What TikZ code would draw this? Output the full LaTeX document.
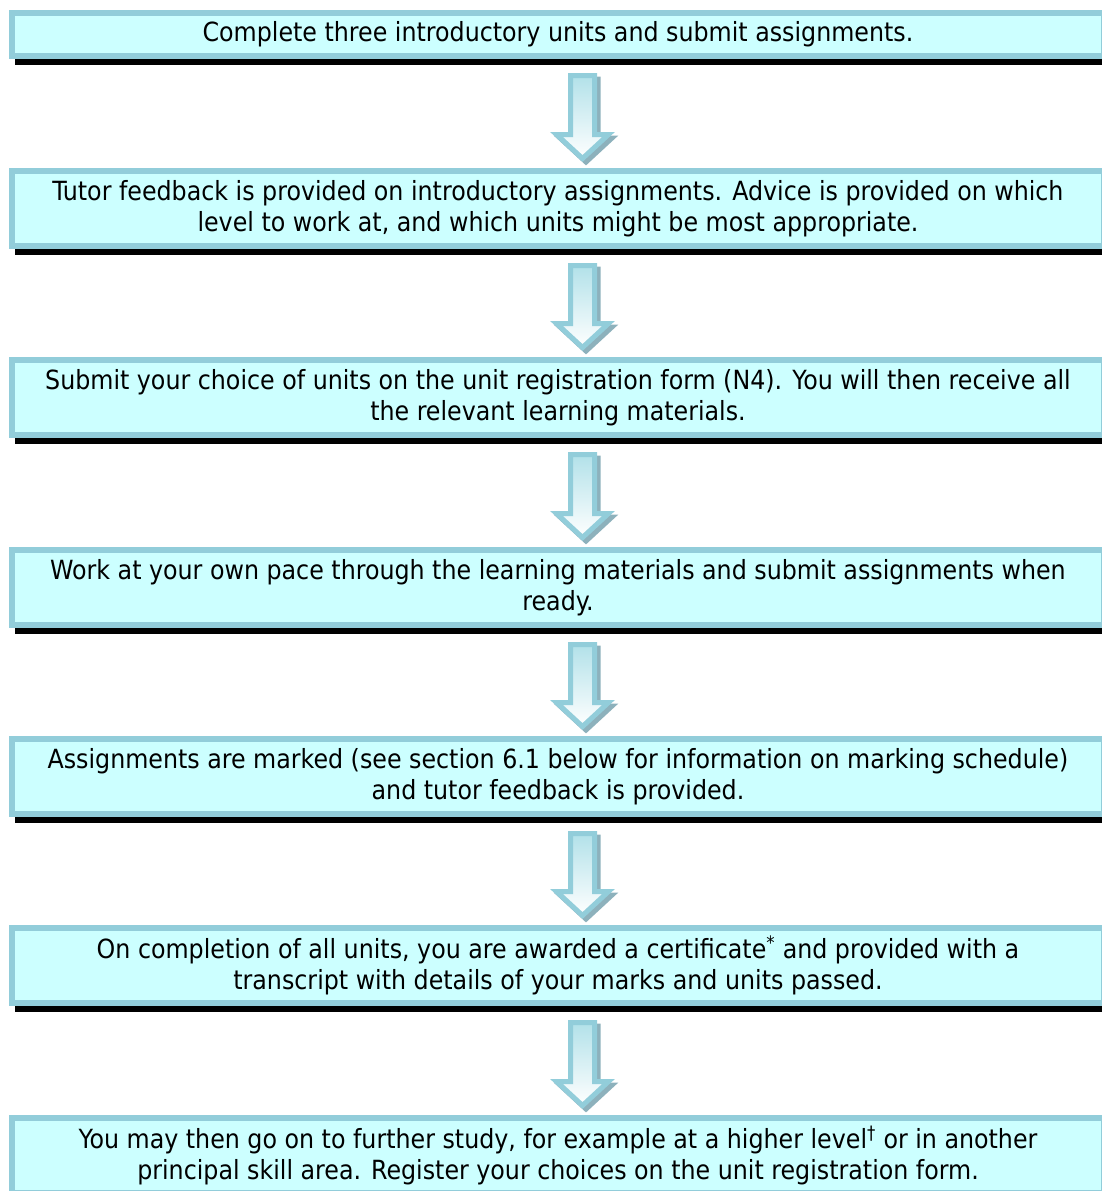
\documentclass[tikz,border=0pt]{standalone}
\usepackage{fontspec}
\setmainfont{DejaVu Sans Condensed}
\usetikzlibrary{calc}

\definecolor{boxline}{HTML}{92CDDA}
\definecolor{boxfill}{HTML}{CCFFFF}
\definecolor{arrowgrey}{HTML}{8DB1BC}
\definecolor{arrowtop}{HTML}{B2E1E9}

\tikzset{
  stepbox/.style={rectangle, draw=boxline, fill=boxfill, line width=6pt,
    minimum width=1092pt, minimum height=75pt, inner sep=0pt, align=center,
    font=\fontsize{26.4}{31}\selectfont,
    preaction={draw=black, fill=black, transform canvas={shift={(6pt,-6pt)}}}},
  arrowbody/.style={draw=boxline, line width=5pt, top color=arrowtop, bottom color=white},
  arrowshadow/.style={draw=arrowgrey, fill=arrowgrey, line width=5pt,
    transform canvas={shift={(3.5pt,-3.5pt)}}}
}

% block arrow from box #1 down to box #2
\newcommand{\arrowpath}[1]{([xshift=-12pt]#1-top) -- ([xshift=-12pt,yshift=24pt]#1-tip)
  -- ([xshift=-26pt,yshift=24pt]#1-tip) -- (#1-tip) -- ([xshift=26pt,yshift=24pt]#1-tip)
  -- ([xshift=12pt,yshift=24pt]#1-tip) -- ([xshift=12pt]#1-top) -- cycle}
\newcommand{\flowarrow}[2]{%
  \coordinate (#1-top) at ($(#1.south)+(24.5,-16.5)$);
  \coordinate (#1-tip) at ($(#2.north)+(24.5,9.5)$);
  \filldraw[arrowshadow] \arrowpath{#1};
  \shadedraw[arrowbody] \arrowpath{#1};
}

\begin{document}
\begin{tikzpicture}[x=1pt,y=1pt]
  \useasboundingbox (0,0) rectangle (1102,-1191);

  \node[stepbox, minimum height=43pt] (intro) at (558,-34.5)
    {Complete three introductory units and submit assignments.};
  \node[stepbox] (advice) at (558,-208.5)
    {Tutor feedback is provided on introductory assignments. Advice is provided on which\\
     level to work at, and which units might be most appropriate.};
  \node[stepbox] (register) at (558,-397.5)
    {Submit your choice of units on the unit registration form (N4). You will then receive all\\
     the relevant learning materials.};
  \node[stepbox] (work) at (558,-587.5)
    {Work at your own pace through the learning materials and submit assignments when\\
     ready.};
  \node[stepbox] (marked) at (558,-776.5)
    {Assignments are marked (see section 6.1 below for information on marking schedule)\\
     and tutor feedback is provided.};
  \node[stepbox] (award) at (558,-965.5)
    {On completion of all units, you are awarded a certificate\textsuperscript{*} and provided with a\\
     transcript with details of your marks and units passed.};
  \node[stepbox] (further) at (558,-1155.5)
    {You may then go on to further study, for example at a higher level\textsuperscript{†} or in another\\
     principal skill area. Register your choices on the unit registration form.};

  \foreach \a/\b in {intro/advice, advice/register, register/work,
                     work/marked, marked/award, award/further}
    {\flowarrow{\a}{\b}}
\end{tikzpicture}
\end{document}
